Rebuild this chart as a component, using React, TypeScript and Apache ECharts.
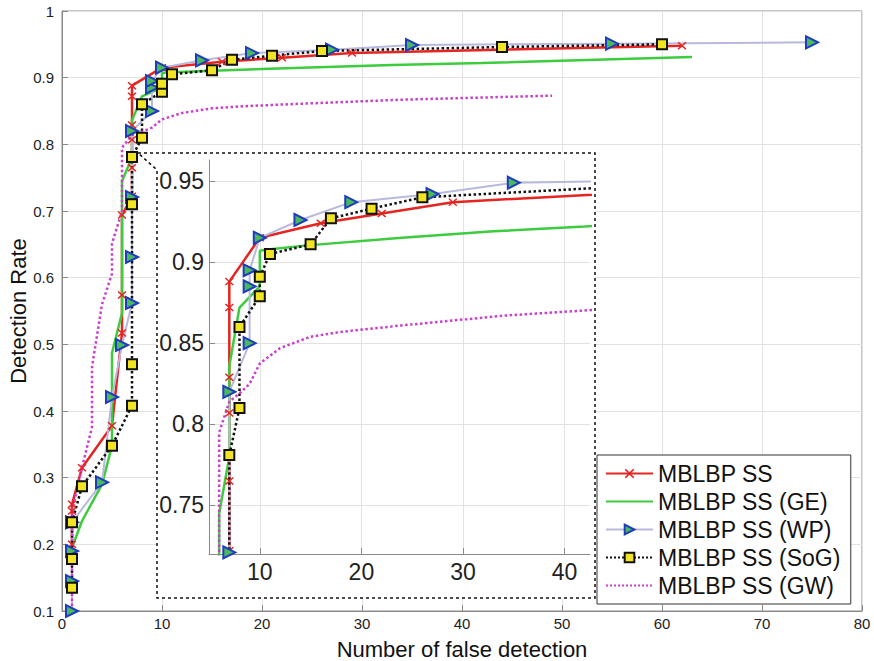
import React, { useEffect, useRef } from "react";
import * as echarts from "echarts";

const FONT = "'Liberation Sans', Arial, Helvetica, sans-serif";

// MBLBP SS (red, x markers)
const redX = [1, 1, 1, 2, 5, 6, 6, 6, 7, 7, 7, 7, 7, 7, 10, 16, 22, 29, 62];
const redY = [0.2, 0.25, 0.26, 0.315, 0.378, 0.517, 0.574, 0.694, 0.722, 0.765, 0.807, 0.829, 0.872, 0.888, 0.915, 0.924, 0.93, 0.937, 0.948];

// MBLBP SS (GE) (green)
const geX = [1, 2, 4, 5, 5, 6, 6, 7, 7, 8, 10, 10, 11, 15, 24, 33, 42, 63];
const geY = [0.195, 0.235, 0.29, 0.348, 0.487, 0.547, 0.745, 0.78, 0.836, 0.872, 0.885, 0.907, 0.908, 0.9105, 0.915, 0.919, 0.922, 0.931];

// MBLBP SS (WP) (lavender, triangles)
const wpX = [1, 1, 1, 1, 4, 5, 6, 7, 7, 7, 7, 9, 9, 9, 10, 14, 19, 27, 35, 55, 75];
const wpY = [0.1, 0.145, 0.19, 0.233, 0.293, 0.421, 0.499, 0.562, 0.631, 0.721, 0.82, 0.85, 0.885, 0.895, 0.915, 0.926, 0.937, 0.942, 0.949, 0.951, 0.953];

// MBLBP SS (SoG) (black dotted, squares)
const sogX = [1, 1, 1, 2, 5, 7, 7, 7, 7, 8, 8, 10, 10, 11, 15, 17, 21, 26, 44, 60];
const sogY = [0.135, 0.178, 0.233, 0.287, 0.348, 0.408, 0.47, 0.71, 0.781, 0.81, 0.86, 0.879, 0.891, 0.905, 0.911, 0.927, 0.933, 0.94, 0.946, 0.95];

// MBLBP SS (GW) (magenta dotted)
const gwX = [1, 1, 2, 3, 3, 4, 5, 5, 6, 6, 7, 8, 9, 10, 12, 15, 18, 24, 34, 49];
const gwY = [0.1, 0.25, 0.315, 0.376, 0.466, 0.56, 0.606, 0.651, 0.7, 0.795, 0.814, 0.819, 0.825, 0.8375, 0.847, 0.854, 0.857, 0.861, 0.867, 0.873];

const seriesNames = ["MBLBP SS", "MBLBP SS (GE)", "MBLBP SS (WP)", "MBLBP SS (SoG)", "MBLBP SS (GW)"];

const zip = (xs: number[], ys: number[]) => xs.map((x, i) => [x, ys[i]]);

const xMark =
  "path://M0,1.2L1.2,0L5,3.8L8.8,0L10,1.2L6.2,5L10,8.8L8.8,10L5,6.2L1.2,10L0,8.8L3.8,5Z";

const HIDDEN = "rgba(0,0,0,0)";

function makeSeries(g: number) {
  const common: any = {
    type: "line",
    xAxisIndex: g,
    yAxisIndex: g,
    showAllSymbol: true,
    z: g ? 6 : 2,
    clip: true,
    silent: true,
  };
  return [
    {
      ...common,
      name: seriesNames[0],
      data: zip(redX, redY),
      symbol: xMark,
      symbolSize: [9, 8],
      lineStyle: { color: "#e52521", width: 2.5 },
      itemStyle: { color: "#e52521" },
    },
    {
      ...common,
      name: seriesNames[1],
      data: zip(geX, geY),
      symbol: "none",
      lineStyle: { color: "#3dcc3d", width: 2.5 },
      itemStyle: { color: HIDDEN, borderWidth: 0 },
    },
    {
      ...common,
      name: seriesNames[2],
      data: zip(wpX, wpY),
      symbol: "triangle",
      symbolRotate: -90,
      symbolSize: 12,
      lineStyle: { color: "#b9b9de", width: 2 },
      itemStyle: { color: "#49b95a", borderColor: "#1e3cc0", borderWidth: 2 },
    },
    {
      ...common,
      name: seriesNames[3],
      data: zip(sogX, sogY),
      symbol: "rect",
      symbolSize: 10,
      lineStyle: { color: "#111", width: 2.5, type: "dotted" },
      itemStyle: { color: "#f2e422", borderColor: "#111", borderWidth: 2 },
    },
    {
      ...common,
      name: seriesNames[4],
      data: zip(gwX, gwY),
      symbol: "none",
      lineStyle: { color: "#cc3fcc", width: 2.5, type: "dotted" },
      itemStyle: { color: HIDDEN, borderWidth: 0 },
    },
  ];
}

export default function App() {
  const ref = useRef<HTMLDivElement>(null);
  useEffect(() => {
    const chart = echarts.init(ref.current!, null, { renderer: "svg" });
    const gridLine = { show: true, lineStyle: { color: "#e2e2e2", width: 1 } };
    const option: any = {
      animation: false,
      backgroundColor: "#fff",
      textStyle: { fontFamily: FONT },
      grid: [
        { left: 62, right: 12, top: 11, bottom: 50, show: true, borderColor: "#8a8a8a", borderWidth: 1, outerBoundsMode: "none", containLabel: false },
        { left: 209, top: 160, width: 381, height: 394, show: false, outerBoundsMode: "none", containLabel: false },
      ],
      xAxis: [
        {
          type: "value",
          gridIndex: 0,
          min: 0,
          max: 80,
          interval: 10,
          name: "Number of false detection",
          nameLocation: "middle",
          nameGap: 27,
          nameTextStyle: { fontSize: 22, color: "#111", fontFamily: FONT },
          axisLine: { show: true, lineStyle: { color: "#8a8a8a" } },
          axisTick: { show: true, inside: true, length: 6, lineStyle: { color: "#8a8a8a" } },
          axisLabel: { fontSize: 15, color: "#222", margin: 5, fontFamily: FONT },
          splitLine: gridLine,
        },
        {
          type: "value",
          gridIndex: 1,
          min: 5,
          max: 42.5,
          splitNumber: 4,
          z: 5,
          axisLine: { show: true, onZero: false, lineStyle: { color: "#8a8a8a" } },
          axisTick: { show: true, inside: true, length: 6, lineStyle: { color: "#8a8a8a" } },
          axisLabel: { fontSize: 23, color: "#222", margin: 6, fontFamily: FONT, showMinLabel: false, showMaxLabel: false },
          splitLine: { ...gridLine, showMinLine: false, showMaxLine: false },
        },
      ],
      yAxis: [
        {
          type: "value",
          gridIndex: 0,
          min: 0.1,
          max: 1,
          interval: 0.1,
          name: "Detection Rate",
          nameLocation: "middle",
          nameGap: 33,
          nameMoveOverlap: false,
          nameTextStyle: { fontSize: 22, color: "#111", fontFamily: FONT },
          axisLine: { show: true, lineStyle: { color: "#8a8a8a" } },
          axisTick: { show: true, inside: true, length: 6, lineStyle: { color: "#8a8a8a" } },
          axisLabel: { fontSize: 15, color: "#222", margin: 8, fontFamily: FONT },
          splitLine: gridLine,
        },
        {
          type: "value",
          gridIndex: 1,
          min: 0.72,
          max: 0.963,
          splitNumber: 5,
          z: 5,
          axisLine: { show: true, onZero: false, lineStyle: { color: "#8a8a8a" } },
          axisTick: { show: true, inside: true, length: 6, lineStyle: { color: "#8a8a8a" } },
          axisLabel: { fontSize: 23, color: "#222", margin: 5, fontFamily: FONT, showMinLabel: false, showMaxLabel: false },
          splitLine: { ...gridLine, showMinLine: false, showMaxLine: false },
        },
      ],
      legend: {
        orient: "vertical",
        left: 597,
        top: 455,
        z: 20,
        data: seriesNames,
        itemWidth: 47,
        itemHeight: 12,
        itemGap: 5,
        padding: [7, 10, 7, 8],
        backgroundColor: "#fff",
        borderColor: "#333",
        borderWidth: 1,
        borderRadius: 0,
        selectedMode: false,
        textStyle: { fontSize: 23, color: "#111", fontFamily: FONT },
      },
      graphic: [
        {
          type: "polygon",
          z: 3,
          silent: true,
          shape: {
            points: [
              [138, 153],
              [595, 153],
              [595, 598],
              [157, 598],
              [157, 170],
            ],
          },
          style: { fill: "#fff", stroke: "#111", lineWidth: 1.5, lineDash: [3, 3] },
        },
      ],
      series: [...makeSeries(0), ...makeSeries(1)],
    };
    chart.setOption(option);
    return () => chart.dispose();
  }, []);
  return <div ref={ref} style={{ position: "absolute", left: 0, top: 0, width: 874, height: 661 }} />;
}
